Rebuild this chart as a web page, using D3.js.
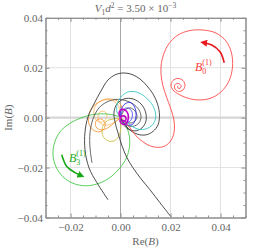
<!DOCTYPE html>
<html><head><meta charset="utf-8">
<script src="https://cdn.jsdelivr.net/npm/d3@7"></script>
<style>
body{margin:0;background:#fff;}
svg text{font-family:"Liberation Serif","Times New Roman",serif !important;}
</style></head><body>
<svg id="c" width="263" height="250"></svg>
<script>
// ---- data (units of B) ----
const xTicks=[-0.02,0,0.02,0.04];
const xTickLabels=["\u22120.02","0.00","0.02","0.04"];
const yTicks=[-0.04,-0.02,0,0.02,0.04];
const yTickLabels=["\u22120.04","\u22120.02","0.00","0.02","0.04"];
const xDomain=[-0.03,0.05];
const yDomain=[-0.04,0.04];

const curveRed=[[0.0002,-0.0001],[0.0018,-0.0017],[0.0038,-0.0041],[0.0062,-0.0073],[0.0090,-0.0097],[0.0118,-0.0113],[0.0146,-0.0119],[0.0174,-0.0115],[0.0198,-0.0097],[0.0212,-0.0069],[0.0216,-0.0037],[0.0212,-0.0001],[0.0200,0.0039],[0.0184,0.0083],[0.0170,0.0127],[0.0162,0.0175],[0.0166,0.0231],[0.0190,0.0291],[0.0230,0.0331],[0.0278,0.0349],[0.0330,0.0351],[0.0382,0.0339],[0.0422,0.0307],[0.0444,0.0259],[0.0448,0.0203],[0.0434,0.0147],[0.0402,0.0103],[0.0358,0.0077],[0.0310,0.0071],[0.0266,0.0079],[0.0234,0.0093],[0.0210,0.0111],[0.0202,0.0131],[0.0210,0.0149],[0.0230,0.0157],[0.0250,0.0149],[0.0258,0.0129],[0.0250,0.0111],[0.0232,0.0105],[0.0218,0.0115],[0.0217,0.0131],[0.0230,0.0137],[0.0242,0.0129],[0.0238,0.0117],[0.0230,0.0119],[0.0228,0.0125],[0.0231,0.0127]];
const curveGreen=[[-0.0002,0.0003],[0.0010,-0.0013],[0.0026,-0.0041],[0.0036,-0.0077],[0.0036,-0.0117],[0.0024,-0.0161],[-0.0002,-0.0201],[-0.0038,-0.0237],[-0.0086,-0.0263],[-0.0138,-0.0273],[-0.0190,-0.0263],[-0.0230,-0.0237],[-0.0258,-0.0197],[-0.0270,-0.0149],[-0.0264,-0.0101],[-0.0242,-0.0057],[-0.0206,-0.0025],[-0.0158,-0.0001],[-0.0106,0.0013],[-0.0058,0.0015],[-0.0022,0.0009],[-0.0002,0.0003]];
const curveBlack1=[[-0.0050,-0.0329],[-0.0094,-0.0261],[-0.0126,-0.0201],[-0.0142,-0.0129],[-0.0142,-0.0057],[-0.0130,0.0003],[-0.0106,0.0055],[-0.0078,0.0107],[-0.0050,0.0151],[-0.0018,0.0173],[0.0014,0.0179],[0.0046,0.0173],[0.0078,0.0155],[0.0106,0.0127],[0.0130,0.0095],[0.0148,0.0055],[0.0156,0.0011],[0.0150,-0.0029],[0.0130,-0.0055],[0.0102,-0.0069],[0.0070,-0.0067],[0.0042,-0.0053],[0.0022,-0.0033],[0.0006,-0.0013],[0.0000,-0.0001]];
const curveBlack2=[[0.0202,-0.0397],[0.0158,-0.0341],[0.0118,-0.0289],[0.0082,-0.0245],[0.0050,-0.0201],[0.0026,-0.0161],[0.0006,-0.0113],[-0.0010,-0.0061],[-0.0022,-0.0017],[-0.0026,0.0023],[-0.0014,0.0055],[0.0014,0.0075],[0.0050,0.0075],[0.0082,0.0055],[0.0100,0.0023],[0.0102,-0.0013],[0.0086,-0.0041],[0.0058,-0.0053],[0.0030,-0.0045],[0.0010,-0.0025],[0.0002,-0.0005]];
const curveBlack3=[[-0.0114,-0.0181],[-0.0122,-0.0121],[-0.0122,-0.0061],[-0.0110,-0.0005],[-0.0086,0.0039],[-0.0054,0.0063],[-0.0018,0.0073],[0.0018,0.0069],[0.0050,0.0055],[0.0074,0.0031],[0.0082,0.0003],[0.0074,-0.0021],[0.0050,-0.0035],[0.0022,-0.0029],[0.0006,-0.0013],[0.0000,-0.0001]];
const curveBlack4=[[0,0],[0.0014,0.0027],[0.0038,0.0039],[0.0058,0.0027],[0.0066,0.0003],[0.0054,-0.0017],[0.0030,-0.0021],[0.0010,-0.0009],[0.0002,-0.0001]];
const curveCyan=[[0.0000,-0.0001],[-0.0014,0.0023],[-0.0014,0.0051],[0.0002,0.0083],[0.0030,0.0103],[0.0062,0.0103],[0.0094,0.0087],[0.0122,0.0059],[0.0138,0.0027],[0.0140,-0.0005],[0.0126,-0.0031],[0.0102,-0.0045],[0.0074,-0.0047],[0.0050,-0.0037],[0.0026,-0.0021],[0.0006,-0.0007]];
const curveBlue=[[0.0000,-0.0001],[0.0002,0.0031],[0.0018,0.0055],[0.0038,0.0061],[0.0054,0.0047],[0.0062,0.0023],[0.0060,-0.0005],[0.0050,-0.0025],[0.0030,-0.0031],[0.0014,-0.0021],[0.0004,-0.0009]];
const curveBlue2=[[0,-0.0001],[0.0010,0.0031],[0.0030,0.0039],[0.0046,0.0023],[0.0046,-0.0001],[0.0034,-0.0017],[0.0014,-0.0013],[0.0002,-0.0003]];
const curveMagenta=[[0,-0.0001],[-0.0006,0.0019],[0.0002,0.0031],[0.0018,0.0031],[0.0030,0.0015],[0.0030,-0.0009],[0.0022,-0.0025],[0.0006,-0.0025],[-0.0002,-0.0013],[0.0002,0.0003],[0.0014,0.0007],[0.0022,-0.0001],[0.0018,-0.0013],[0.0006,-0.0013]];
const curveOrange1=[[0,-0.0001],[0.0006,0.0039],[-0.0014,0.0067],[-0.0050,0.0075],[-0.0086,0.0063],[-0.0114,0.0039],[-0.0128,0.0007],[-0.0126,-0.0025],[-0.0110,-0.0049],[-0.0086,-0.0057],[-0.0066,-0.0045],[-0.0062,-0.0021],[-0.0078,-0.0005],[-0.0098,-0.0013],[-0.0098,-0.0037],[-0.0078,-0.0049],[-0.0050,-0.0041],[-0.0026,-0.0021],[-0.0006,-0.0005]];
const curveOrange2=[[0,-0.0001],[-0.0010,0.0051],[-0.0042,0.0071],[-0.0078,0.0067],[-0.0102,0.0043],[-0.0106,0.0011],[-0.0094,-0.0013],[-0.0070,-0.0017],[-0.0054,0.0003],[-0.0062,0.0023],[-0.0082,0.0023],[-0.0090,-0.0001],[-0.0078,-0.0025],[-0.0050,-0.0029],[-0.0022,-0.0017],[-0.0002,-0.0001]];
const curveYellow=[[0,-0.0001],[0.0002,-0.0029],[-0.0002,-0.0061],[-0.0018,-0.0089],[-0.0042,-0.0095],[-0.0066,-0.0081],[-0.0074,-0.0053],[-0.0066,-0.0025],[-0.0046,-0.0009],[-0.0022,-0.0005],[-0.0002,-0.0001]];
const arrowRed=[[0.0415,0.0220],[0.0398,0.0264],[0.0365,0.0291],[0.0330,0.0301]];
const arrowGreen=[[-0.0235,-0.0149],[-0.0215,-0.0196],[-0.0182,-0.0220],[-0.0155,-0.0233]];
const labelB0=[0.0298,0.0187];
const labelB3=[-0.0206,-0.0177];

// ---- drawing ----
const svg=d3.select("#c");
const L=45.5,R=245.5,T=17.8,Bt=217.5;
const x=d3.scaleLinear().domain(xDomain).range([L,R]);
const y=d3.scaleLinear().domain(yDomain).range([Bt,T]);
const serif='"Liberation Serif","Times New Roman",serif';
const txtCol="#666";

const defs=svg.append("defs");
defs.append("clipPath").attr("id","clip").append("rect").attr("x",L).attr("y",T).attr("width",R-L).attr("height",Bt-T);
function marker(id,col){
  defs.append("marker").attr("id",id).attr("viewBox","0 0 10 10").attr("refX",6).attr("refY",5)
    .attr("markerWidth",7).attr("markerHeight",7).attr("markerUnits","userSpaceOnUse").attr("orient","auto")
    .append("path").attr("d","M0,0L10,5L0,10z").attr("fill",col);
}
marker("ar","#e8181c");marker("ag","#18a818");

// grid
const g=svg.append("g");
[-0.02,0.02,0.04].forEach(v=>g.append("line").attr("x1",x(v)).attr("x2",x(v)).attr("y1",T).attr("y2",Bt).attr("stroke","#e2e2e2").attr("stroke-width",1));
[-0.02,0.02].forEach(v=>g.append("line").attr("y1",y(v)).attr("y2",y(v)).attr("x1",L).attr("x2",R).attr("stroke","#e2e2e2").attr("stroke-width",1));
g.append("line").attr("y1",y(0)).attr("y2",y(0)).attr("x1",L).attr("x2",R).attr("stroke","#d6d6d6").attr("stroke-width",2.2);
g.append("line").attr("x1",x(0)).attr("x2",x(0)).attr("y1",T).attr("y2",Bt).attr("stroke","#a8a8a8").attr("stroke-width",1);

// curves
const line=d3.line().x(d=>x(d[0])).y(d=>y(d[1])).curve(d3.curveCatmullRom.alpha(0.5));
const cg=svg.append("g").attr("clip-path","url(#clip)").attr("fill","none");
const series=[
 [curveYellow,"#c9c24a",0.9],
 [curveOrange2,"#ffbf70",0.9],
 [curveOrange1,"#f59a3c",0.9],
 [curveGreen,"#48c848",0.9],
 [curveBlack1,"#3a3a3a",0.9],
 [curveBlack2,"#3a3a3a",0.9],
 [curveBlack3,"#555555",0.9],
 [curveBlack4,"#555555",0.9],
 [curveCyan,"#3cc8c8",0.9],
 [curveBlue,"#3030f0",0.9],
 [curveBlue2,"#5050ff",0.9],
 [curveRed,"#ff4a4a",0.9],
 [curveMagenta,"#c000c8",1.6]
];
series.forEach(s=>cg.append("path").attr("d",line(s[0])).attr("stroke",s[1]).attr("stroke-width",s[2]));
cg.append("path").attr("d",line(arrowRed)).attr("stroke","#e8181c").attr("stroke-width",1.6).attr("marker-end","url(#ar)");
cg.append("path").attr("d",line(arrowGreen)).attr("stroke","#18a818").attr("stroke-width",1.6).attr("marker-end","url(#ag)");

// labels
function blabel(pos,sub,col){
  const t=svg.append("text").attr("x",x(pos[0])).attr("y",y(pos[1])).attr("fill",col).attr("font-size",12).style("font-family",serif);
  t.append("tspan").attr("font-style","italic").text("B");
  t.append("tspan").attr("font-size",8).attr("dy",3).text(sub);
  t.append("tspan").attr("font-size",8).attr("dx",-4).attr("dy",-9).text("(1)");
}
blabel(labelB0,"0","#ff3a3a");
blabel(labelB3,"3","#22aa22");

// axes
const axCol="#8c8c8c";
function styleAxis(sel){
  sel.attr("font-family",null).attr("font-size",null);
  sel.selectAll(".domain").attr("stroke",axCol);
  sel.selectAll(".tick line").attr("stroke",axCol);
  sel.selectAll(".tick text").attr("fill",txtCol).style("font-size","11px").style("font-family",serif);
}
const minorX=d3.range(-0.03,0.0501,0.005).filter(v=>Math.abs(Math.round(v*1000)%20)!==0);
const minorY=d3.range(-0.04,0.0401,0.005).filter(v=>Math.abs(Math.round(v*1000)%20)!==0);
const ax=svg.append("g");
ax.append("g").attr("transform",`translate(0,${Bt})`).call(d3.axisBottom(x).tickValues(minorX).tickSizeInner(-2).tickSizeOuter(0).tickFormat("")).call(styleAxis);
ax.append("g").attr("transform",`translate(0,${T})`).call(d3.axisTop(x).tickValues(minorX).tickSizeInner(-2).tickSizeOuter(0).tickFormat("")).call(styleAxis);
ax.append("g").attr("transform",`translate(${L},0)`).call(d3.axisLeft(y).tickValues(minorY).tickSizeInner(-2).tickSizeOuter(0).tickFormat("")).call(styleAxis);
ax.append("g").attr("transform",`translate(${R},0)`).call(d3.axisRight(y).tickValues(minorY).tickSizeInner(-2).tickSizeOuter(0).tickFormat("")).call(styleAxis);
ax.append("g").attr("transform",`translate(0,${Bt})`).call(d3.axisBottom(x).tickValues(xTicks).tickSizeInner(-4).tickSizeOuter(0).tickPadding(6).tickFormat((d,i)=>xTickLabels[i])).call(styleAxis);
ax.append("g").attr("transform",`translate(0,${T})`).call(d3.axisTop(x).tickValues(xTicks).tickSizeInner(-4).tickSizeOuter(0).tickFormat("")).call(styleAxis);
ax.append("g").attr("transform",`translate(${L},0)`).call(d3.axisLeft(y).tickValues(yTicks).tickSizeInner(-4).tickSizeOuter(0).tickPadding(2.5).tickFormat((d,i)=>yTickLabels[i])).call(styleAxis);
ax.append("g").attr("transform",`translate(${R},0)`).call(d3.axisRight(y).tickValues(yTicks).tickSizeInner(-4).tickSizeOuter(0).tickFormat("")).call(styleAxis);

// title
const tt=svg.append("text").attr("x",(L+R)/2-10).attr("y",12).attr("text-anchor","middle").attr("fill",txtCol).attr("font-size",11).style("font-family",serif);
tt.append("tspan").attr("font-style","italic").text("V");
tt.append("tspan").attr("font-size",7.5).attr("dy",2.5).text("1");
tt.append("tspan").attr("font-style","italic").attr("dy",-2.5).text("d");
tt.append("tspan").attr("font-size",7.5).attr("dy",-4).text("2");
tt.append("tspan").attr("dy",4).text(" = 3.50 \u00d7 10");
tt.append("tspan").attr("font-size",7.5).attr("dy",-4).text("\u22123");

// axis labels
const xl=svg.append("text").attr("x",(L+R)/2).attr("y",245).attr("text-anchor","middle").attr("fill",txtCol).attr("font-size",11).style("font-family",serif);
xl.append("tspan").text("Re(");xl.append("tspan").attr("font-style","italic").text("B");xl.append("tspan").text(")");
const yl=svg.append("text").attr("transform",`translate(12,${(T+Bt)/2}) rotate(-90)`).attr("text-anchor","middle").attr("fill",txtCol).attr("font-size",11).style("font-family",serif);
yl.append("tspan").text("Im(");yl.append("tspan").attr("font-style","italic").text("B");yl.append("tspan").text(")");
</script>
</body></html>
